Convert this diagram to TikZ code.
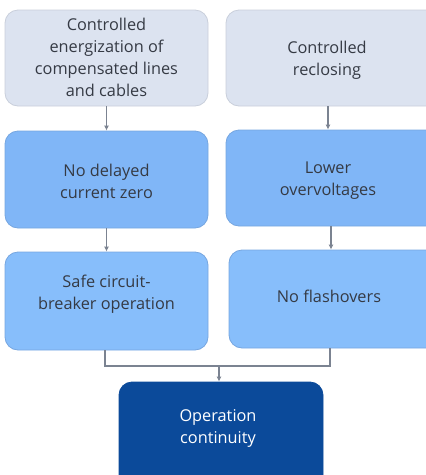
\documentclass[tikz,border=0pt]{standalone}
\usepackage{fontspec}
\setmainfont{Open Sans}
\usetikzlibrary{arrows.meta}
\begin{document}
\definecolor{topfill}{HTML}{DCE3F0}
\definecolor{topdraw}{HTML}{C9CFDB}
\definecolor{midfill}{HTML}{80B6F7}
\definecolor{middraw}{HTML}{76A6E0}
\definecolor{lowfill}{HTML}{87BEFB}
\definecolor{darkfill}{HTML}{0B4A9A}
\definecolor{txtgray}{HTML}{353A44}
\definecolor{linegray}{HTML}{7B8391}
\begin{tikzpicture}[x=1pt,y=-1pt,
  box/.style={rectangle,rounded corners=13pt,line width=0.8pt,inner sep=0pt},
  topbox/.style={box,fill=topfill,draw=topdraw},
  midbox/.style={box,fill=midfill,draw=middraw},
  lowbox/.style={box,fill=lowfill,draw=middraw},
  darkbox/.style={box,fill=darkfill,draw=darkfill},
  lbl/.style={align=center,font=\fontsize{16.3}{22}\selectfont,text=txtgray,inner sep=0pt},
  conn/.style={draw=linegray,line width=1.1pt},
  arr/.style={conn,-{Latex[length=5pt,width=5pt]}}]
\useasboundingbox (0,0) rectangle (426,475);
\clip (0,0) rectangle (426,475);
% boxes
\node[topbox,minimum width=203pt,minimum height=96pt] (b1) at (106.5,58) {};
\node[topbox,minimum width=214pt,minimum height=96pt] (b2) at (333,58) {};
\node[midbox,minimum width=203pt,minimum height=97pt] (b3) at (106.5,179.5) {};
\node[midbox,minimum width=214pt,minimum height=96pt] (b4) at (333,178) {};
\node[lowbox,minimum width=203pt,minimum height=98pt] (b5) at (106.5,301) {};
\node[lowbox,minimum width=211pt,minimum height=98pt] (b6) at (334.5,299) {};
\node[darkbox,minimum width=204pt,minimum height=108pt] (b7) at (221,436) {};
% texts
\node[lbl] (t1) at (106.5,57) {Controlled\\energization of\\compensated lines\\and cables};
\node[lbl] (t2) at (327,60) {Controlled\\reclosing};
\node[lbl] (t3) at (106.5,181) {No delayed\\current zero};
\node[lbl] (t4) at (328,180.5) {Lower\\overvoltages};
\node[lbl] (t5) at (106.5,294.5) {Safe circuit-\\breaker operation};
\node[lbl] (t6) at (329,296) {No flashovers};
\node[lbl,text=white] (t7) at (218,428) {Operation\\continuity};
% connectors
\coordinate (j) at (219,366);
\draw[arr] (b1.south) -- (b3.north);
\draw[arr] (328,0 |- b2.south) -- (328,0 |- b4.north);
\draw[arr] (b3.south) -- (b5.north);
\draw[arr] (331,0 |- b4.south) -- (331,0 |- b6.north);
\draw[conn] (105,0 |- b5.south) |- (j);
\draw[conn] (330,0 |- b6.south) |- (j);
\draw[arr] (j) -- (219,0 |- b7.north);
\end{tikzpicture}
\end{document}
